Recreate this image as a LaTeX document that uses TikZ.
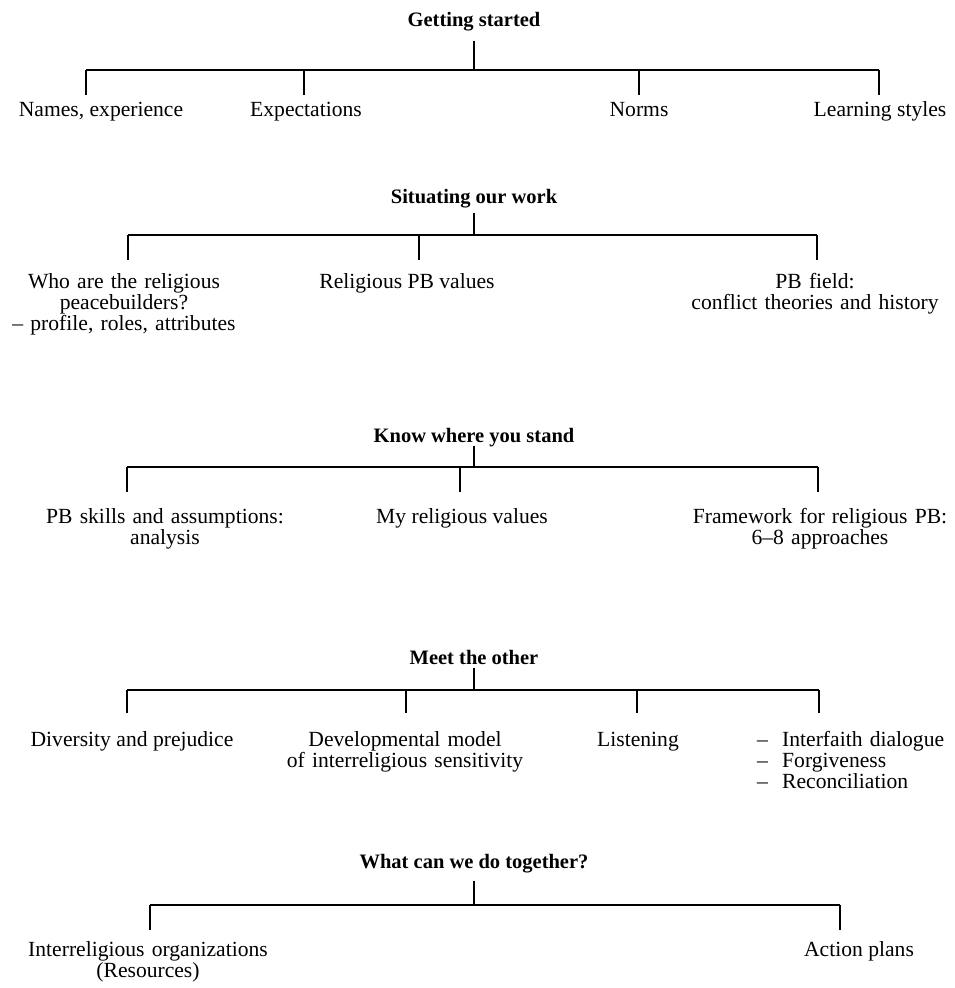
\documentclass[tikz,border=0pt]{standalone}
\usepackage{fontspec}
\setmainfont{Liberation Serif}
\begin{document}
\begin{tikzpicture}[x=1pt,y=-1pt,
  lbl/.style={inner sep=0pt, anchor=base, font=\fontsize{21.6}{21}\selectfont},
  ttl/.style={lbl, font=\fontsize{20.5}{21}\selectfont\bfseries},
  mlbl/.style={lbl, text width=#1, align=center},
  bar/.style={line width=2.2pt},
  drop/.style={line width=1.1pt},
  stem/.style={line width=2pt}]
\useasboundingbox (0,0) rectangle (954,988);

% ---------- Section 1 ----------
\node[ttl] (t1) at (474,26) {Getting started};
\coordinate (j1) at (474,70);
\coordinate (e11) at (86,95);
\coordinate (e12) at (304,95);
\coordinate (e13) at (639,95);
\coordinate (e14) at (879,95);
\node[lbl] (a11) at (101,116) {Names, experience};
\node[lbl] (a12) at (306,116) {Expectations};
\node[lbl] (a13) at (639,116) {Norms};
\node[lbl] (a14) at (880,116) {Learning styles};
\draw[stem] ([yshift=-10pt]t1.south) -- (j1);
\draw[bar] (e11 |- j1) -- (e14 |- j1);
\foreach \e in {e11,e12,e13,e14} \draw[drop] (\e |- j1) -- (\e);

% ---------- Section 2 ----------
\node[ttl] (t2) at (474,203) {Situating our work};
\coordinate (j2) at (474,235);
\coordinate (e21) at (128,260);
\coordinate (e22) at (419,260);
\coordinate (e23) at (817,260);
\node[mlbl=280pt] (a21) at (124,288) {Who are the religious\\peacebuilders?\\– profile, roles, attributes};
\node[lbl] (a22) at (407,288) {Religious PB values};
\node[mlbl=300pt] (a23) at (815,288) {PB field:\\conflict theories and history};
\draw[stem] ([yshift=-5pt]t2.south) -- (j2);
\draw[bar] (e21 |- j2) -- (e23 |- j2);
\foreach \e in {e21,e22,e23} \draw[drop] (\e |- j2) -- (\e);

% ---------- Section 3 ----------
\node[ttl] (t3) at (474,442) {Know where you stand};
\coordinate (j3) at (474,467);
\coordinate (e31) at (127,492);
\coordinate (e32) at (460,492);
\coordinate (e33) at (818,492);
\node[mlbl=320pt] (a31) at (165,523) {PB skills and assumptions:\\analysis};
\node[lbl] (a32) at (462,523) {My religious values};
\node[mlbl=300pt] (a33) at (820,523) {Framework for religious PB:\\6–8 approaches};
\draw[stem] ([yshift=1pt]t3.south) -- (j3);
\draw[bar] (e31 |- j3) -- (e33 |- j3);
\foreach \e in {e31,e32,e33} \draw[drop] (\e |- j3) -- (\e);

% ---------- Section 4 ----------
\node[ttl] (t4) at (474,664) {Meet the other};
\coordinate (j4) at (474,690);
\coordinate (e41) at (127,713);
\coordinate (e42) at (406,713);
\coordinate (e43) at (637,713);
\coordinate (e44) at (819,713);
\node[lbl] (a41) at (132,746) {Diversity and prejudice};
\node[mlbl=300pt] (a42) at (405,746) {Developmental model\\of interreligious sensitivity};
\node[lbl] (a43) at (638,746) {Listening};
\node[lbl, anchor=base west, text width=200pt, align=left] (a44) at (757,746)
  {\makebox[25pt][l]{–}Interfaith dialogue\\\makebox[25pt][l]{–}Forgiveness\\\makebox[25pt][l]{–}Reconciliation};
\draw[stem] ([yshift=-4pt]t4.south) -- (j4);
\draw[bar] (e41 |- j4) -- (e44 |- j4);
\foreach \e in {e41,e42,e43,e44} \draw[drop] (\e |- j4) -- (\e);

% ---------- Section 5 ----------
\node[ttl] (t5) at (474,868) {What can we do together?};
\coordinate (j5) at (474,905);
\coordinate (e51) at (150,930);
\coordinate (e52) at (840,930);
\node[mlbl=320pt] (a51) at (148,956) {Interreligious organizations\\(Resources)};
\node[lbl] (a52) at (859,956) {Action plans};
\draw[stem] ([yshift=-8pt]t5.south) -- (j5);
\draw[bar] (e51 |- j5) -- (e52 |- j5);
\foreach \e in {e51,e52} \draw[drop] (\e |- j5) -- (\e);
\end{tikzpicture}
\end{document}
